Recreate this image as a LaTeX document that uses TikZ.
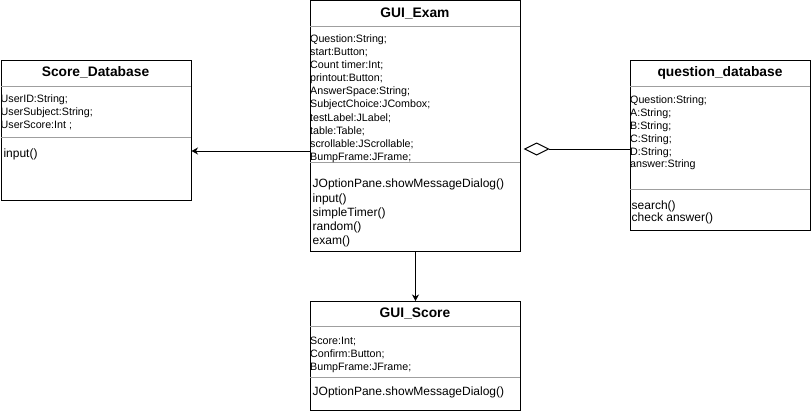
\documentclass[tikz,border=0pt]{standalone}
\usepackage{fontspec}
\setmainfont{Liberation Sans}
\usetikzlibrary{arrows.meta}

\begin{document}
\begin{tikzpicture}[x=1pt, y=-1pt,
        classbox/.style={draw, line width=1pt, anchor=north west, inner sep=0pt},
        classname/.style={font=\fontsize{13.8}{16}\selectfont\bfseries},
        attrs/.style={anchor=north west, inner sep=0pt, align=left, font=\fontsize{10.7}{13.1}\selectfont},
        ops/.style={anchor=north west, inner sep=0pt, align=left, font=\fontsize{12}{14.2}\selectfont},
        sep/.style={draw=gray!75, line width=.8pt},
        usearrow/.style={-{Stealth[length=6.5pt, width=7pt, inset=2pt]}, line width=1pt}]
        \useasboundingbox (0,0) rectangle (811,412);

        \node[classbox, minimum width=210pt, minimum height=250pt] at (310,0.5)   (exam) {};
        \node[classbox, minimum width=190pt, minimum height=140pt] at (0.5,60)    (scoredb) {};
        \node[classbox, minimum width=180pt, minimum height=170pt] at (630,60)    (questiondb) {};
        \node[classbox, minimum width=210pt, minimum height=109pt] at (310,301)   (score) {};

        \node[classname] at (415,13.5)  (examname) {GUI\_Exam};
        \node[classname] at (95.5,72.5) (scoredbname) {Score\_Database};
        \node[classname] at (720,72.7)  (questiondbname) {question\_database};
        \node[classname] at (415,314)   (scorename) {GUI\_Score};

        \draw [sep] (310,26) -- (520,26);
        \draw [sep] (310,162) -- (520,162);
        \draw [sep] (0.5,86.5) -- (190.5,86.5);
        \draw [sep] (0.5,137) -- (190.5,137);
        \draw [sep] (630,86) -- (810,86);
        \draw [sep] (630,189) -- (810,189);
        \draw [sep] (310,326) -- (520,326);
        \draw [sep] (310,377) -- (520,377);

        \node[attrs] at (310,34.5) (examattr) {Question:String;\\start:Button;\\Count timer:Int;\\printout:Button;\\AnswerSpace:String;\\SubjectChoice:JCombox;\\testLabel:JLabel;\\table:Table;\\scrollable:JScrollable;\\BumpFrame:JFrame;};
        \node[ops] at (312.5,179) (examops) {JOptionPane.showMessageDialog()\\input()\\simpleTimer()\\random()\\exam()};

        \node[attrs] at (0.5,94.5) (scoredbattr) {UserID:String;\\UserSubject:String;\\UserScore:Int ;};
        \node[ops] at (3.3,148.3) (scoredbops) {input()};

        \node[attrs, font=\fontsize{10.7}{12.8}\selectfont] at (630,96) (questiondbattr) {Question:String;\\A:String;\\B:String;\\C:String;\\D:String;\\answer:String};
        \node[ops, font=\fontsize{12}{12}\selectfont] at (631.5,201) (questiondbops) {search()\\check answer()};

        \node[attrs] at (310,336.5) (scoreattr) {Score:Int;\\Confirm:Button;\\BumpFrame:JFrame;};
        \node[ops] at (312.5,387) (scoreops) {JOptionPane.showMessageDialog()};

        \draw [usearrow] (exam.west |- 0,151) -- (scoredb.east |- 0,151);
        \draw [usearrow] (exam.south) -- (score.north);
        \draw [-{Diamond[open, length=26pt, width=13pt]}, line width=1pt, shorten >=2.7pt] (questiondb.west |- 0,149) -- (exam.east |- 0,149);
    \end{tikzpicture}
\end{document}
